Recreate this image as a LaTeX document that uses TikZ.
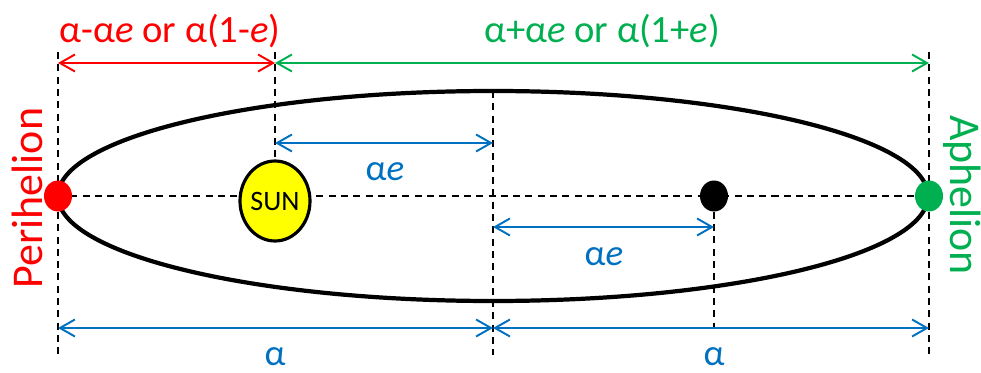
\documentclass[tikz,border=0pt]{standalone}
\usepackage{fontspec}
\setmainfont{Carlito}
\usetikzlibrary{arrows.meta,shapes.geometric}
\definecolor{perired}{HTML}{FF0000}
\definecolor{aphgreen}{HTML}{00B050}
\definecolor{dimblue}{HTML}{0070C0}
\definecolor{sunyellow}{HTML}{FFFF00}
\tikzset{
  orbit/.style={line width=2.4pt},
  guide/.style={line width=1.1pt, dash pattern=on 4pt off 3pt},
  dimline/.style={
    {Straight Barb[length=3mm,width=3.4mm]}-{Straight Barb[length=3mm,width=3.4mm]},
    line width=1.1pt
  },
  dot/.style={ellipse, inner sep=0pt, minimum width=5.6mm, minimum height=6.2mm},
  sunbody/.style={
    ellipse,
    draw,
    line width=1.8pt,
    fill=sunyellow,
    inner sep=0pt,
    minimum width=14mm,
    minimum height=16mm,
    font=\fontsize{16}{18}\selectfont
  },
  biglabel/.style={font=\fontsize{22}{26}\selectfont},
  sidelabel/.style={font=\fontsize{25}{29}\selectfont},
  dimlabel/.style={font=\fontsize{21}{25}\selectfont, text=dimblue}
}
\begin{document}
\begin{tikzpicture}[x=0.2mm, y=-0.2mm]
\useasboundingbox (0,0) rectangle (981,373);
% points on the major axis
\coordinate (peript) at (58,196);
\coordinate (sunpt) at (275,201);
\coordinate (ctr) at (493,196);
\coordinate (ctrtop) at (493,91);
\coordinate (focuspt) at (714,196);
\coordinate (aphpt) at (929,196);
% heights of the guides and dimension lines
\coordinate (guidetop) at (0,52);
\coordinate (guidebot) at (0,355);
\coordinate (topdim) at (0,63);
\coordinate (upperdim) at (0,143);
\coordinate (lowerdim) at (0,227);
\coordinate (botdim) at (0,328);

\draw[guide] (peript) -- (aphpt);
\draw[guide] (peript |- guidetop) -- (peript |- guidebot);
\draw[guide] (aphpt |- guidetop) -- (aphpt |- guidebot);
\draw[guide] (ctrtop) -- (ctr |- guidebot);
\draw[orbit] (ctr) ellipse [x radius=87mm, y radius=21mm];

\node[dot, fill=perired] (peri) at (peript) {};
\node[dot, fill=aphgreen] (aph) at (aphpt) {};
\node[dot, fill=black] (focus) at (focuspt) {};
\node[sunbody] (sun) at (sunpt) {SUN};

\draw[guide] (sun.north |- guidetop) -- (sun.north);
\draw[guide] (focus.south) -- (focus |- botdim);

\draw[dimline, perired] (peri |- topdim) -- (sun.north |- topdim);
\draw[dimline, aphgreen] (sun.north |- topdim) -- (aph |- topdim);
\draw[dimline, dimblue] (sun.north |- upperdim) -- (ctr |- upperdim);
\draw[dimline, dimblue] (ctr |- lowerdim) -- (focus |- lowerdim);
\draw[dimline, dimblue] (peri |- botdim) -- (ctr |- botdim);
\draw[dimline, dimblue] (ctr |- botdim) -- (aph |- botdim);

\node[biglabel, text=perired] (perilen) at (170,31) {α-α\textit{e} or α(1-\textit{e})};
\node[biglabel, text=aphgreen] (aphlen) at (602,31) {α+α\textit{e} or α(1+\textit{e})};
\node[dimlabel] (sunoff) at (385,172) {α\textit{e}};
\node[dimlabel] (focusoff) at (604,257) {α\textit{e}};
\node[dimlabel] (lefthalf) at (275,357) {α};
\node[dimlabel] (righthalf) at (714,357) {α};
\node[sidelabel, text=perired, rotate=90] (periname) at (27,198) {Perihelion};
\node[sidelabel, text=aphgreen, rotate=-90] (aphname) at (962,195) {Aphelion};
\end{tikzpicture}
\end{document}
